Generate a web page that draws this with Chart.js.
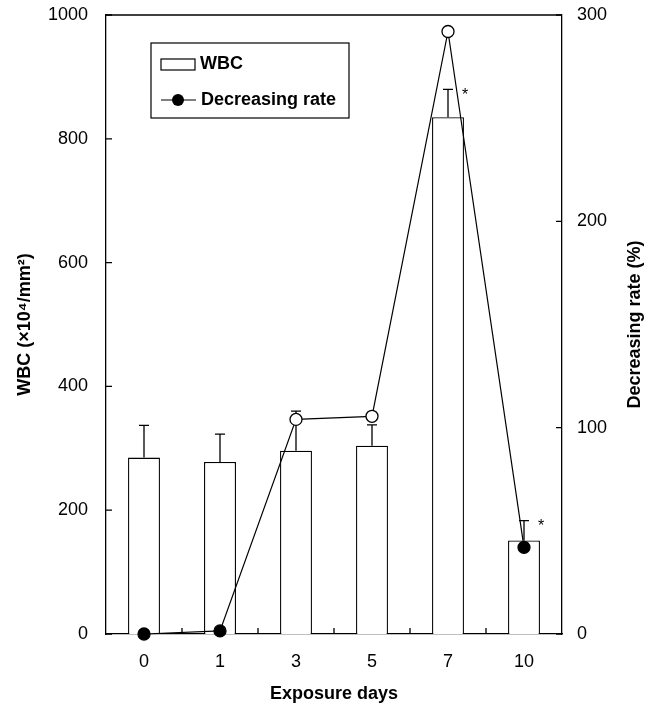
<!DOCTYPE html>
<html>
<head>
<meta charset="utf-8">
<script src="https://cdn.jsdelivr.net/npm/chart.js@4.4.0/dist/chart.umd.min.js"></script>
<style>
  body { margin: 0; background: #fff; }
</style>
</head>
<body>
<canvas id="chart" width="653" height="707"></canvas>
<script>
const days = ['0', '1', '3', '5', '7', '10'];
const wbc = [285, 278, 296, 304, 835, 151];
const wbcSd = [52, 45, 64, 34, 45, 32];
const rate = [0, 1.5, 104, 105.5, 292, 42];
const rateOpen = [false, false, true, true, true, false];
const signif = ['', '', '', '', '*', '*'];
const wbcTicks = [0, 200, 400, 600, 800, 1000];
const rateTicks = [0, 100, 200, 300];

Chart.defaults.font.family = "'Liberation Sans', Arial, sans-serif";
Chart.defaults.font.size = 18;
Chart.defaults.color = '#000';

const boldFont = "bold 18px 'Liberation Sans', Arial, sans-serif";

// frame, inward ticks, error bars, legend, right title
const extras = {
  id: 'extras',
  beforeDatasetsDraw(chart) {
    const { ctx, chartArea: a, scales } = chart;
    ctx.save();
    ctx.strokeStyle = '#000';
    ctx.lineWidth = 1.3;
    // top border
    ctx.beginPath();
    ctx.moveTo(a.left, a.top);
    ctx.lineTo(a.right, a.top);
    ctx.stroke();
    // inward ticks
    ctx.beginPath();
    scales.y.ticks.forEach(t => {
      const y = scales.y.getPixelForValue(t.value);
      ctx.moveTo(a.left, y);
      ctx.lineTo(a.left + 6, y);
    });
    scales.y1.ticks.forEach(t => {
      const y = scales.y1.getPixelForValue(t.value);
      ctx.moveTo(a.right, y);
      ctx.lineTo(a.right - 6, y);
    });
    const step = (a.right - a.left) / days.length;
    for (let i = 1; i < days.length; i++) {
      const x = a.left + step * i;
      ctx.moveTo(x, a.bottom);
      ctx.lineTo(x, a.bottom - 6);
    }
    ctx.stroke();
    ctx.restore();
  },
  afterDatasetDraw(chart, args) {
    if (args.index !== 0) return;
    const { ctx, scales } = chart;
    ctx.save();
    ctx.strokeStyle = '#000';
    ctx.lineWidth = 1.3;
    ctx.font = "16px 'Liberation Sans', Arial, sans-serif";
    ctx.fillStyle = '#000';
    wbc.forEach((v, i) => {
      const x = scales.x.getPixelForValue(i);
      const y0 = scales.y.getPixelForValue(v);
      const y1 = scales.y.getPixelForValue(v + wbcSd[i]);
      ctx.beginPath();
      ctx.moveTo(x, y0);
      ctx.lineTo(x, y1);
      ctx.moveTo(x - 5, y1);
      ctx.lineTo(x + 5, y1);
      ctx.stroke();
      if (signif[i]) {
        ctx.textAlign = 'left';
        ctx.textBaseline = 'top';
        ctx.fillText(signif[i], x + 14, y1 - 2);
      }
    });
    ctx.restore();
  },
  afterDraw(chart) {
    const { ctx, chartArea: a } = chart;
    ctx.save();
    ctx.strokeStyle = '#000';
    ctx.fillStyle = '#000';
    ctx.lineWidth = 1.2;
    // legend box
    const lx = a.left + 45, ly = a.top + 28;
    ctx.fillStyle = '#fff';
    ctx.fillRect(lx, ly, 198, 75);
    ctx.strokeRect(lx, ly, 198, 75);
    ctx.strokeRect(lx + 10, ly + 16, 34, 11);
    ctx.beginPath();
    ctx.moveTo(lx + 10, ly + 57);
    ctx.lineTo(lx + 45, ly + 57);
    ctx.stroke();
    ctx.fillStyle = '#000';
    ctx.beginPath();
    ctx.arc(lx + 27, ly + 57, 6, 0, Math.PI * 2);
    ctx.fill();
    ctx.font = boldFont;
    ctx.textAlign = 'left';
    ctx.textBaseline = 'middle';
    ctx.fillText(chart.data.datasets[0].label, lx + 49, ly + 21);
    ctx.fillText(chart.data.datasets[1].label, lx + 50, ly + 57);
    // right axis title, reading upward
    ctx.translate(635, (a.top + a.bottom) / 2);
    ctx.rotate(-Math.PI / 2);
    ctx.textAlign = 'center';
    ctx.fillText('Decreasing rate (%)', 0, 0);
    ctx.restore();
  }
};

function fitY(width) {
  return s => {
    s.width = width;
    s.paddingTop = 0;
    s.paddingBottom = 0;
  };
}

new Chart(document.getElementById('chart'), {
  data: {
    labels: days,
    datasets: [
      {
        type: 'bar',
        label: 'WBC',
        data: wbc,
        yAxisID: 'y',
        backgroundColor: '#fff',
        borderColor: '#000',
        borderWidth: 1.3,
        barPercentage: 0.42,
        categoryPercentage: 1,
        order: 1,
      },
      {
        type: 'line',
        label: 'Decreasing rate',
        data: rate,
        yAxisID: 'y1',
        borderColor: '#000',
        borderWidth: 1.2,
        pointRadius: 6,
        pointBorderWidth: 1.3,
        pointBorderColor: '#000',
        pointBackgroundColor: rateOpen.map(o => (o ? '#fff' : '#000')),
        tension: 0,
        clip: false,
        order: 0,
      },
    ],
  },
  options: {
    responsive: false,
    animation: false,
    layout: { padding: { top: 15, right: 0, bottom: 0, left: 0 } },
    plugins: {
      legend: { display: false },
      tooltip: { enabled: false },
    },
    scales: {
      x: {
        grid: { display: false, drawTicks: false },
        border: { color: '#000', width: 1.3 },
        ticks: { padding: 17 },
        title: { display: true, text: 'Exposure days', font: { weight: 'bold', size: 18 }, padding: { top: 0, bottom: 2 } },
        afterFit(s) { s.height = 73; s.paddingLeft = 0; s.paddingRight = 0; },
      },
      y: {
        position: 'left',
        min: 0,
        max: 1000,
        grid: { display: false, drawTicks: false },
        border: { color: '#000', width: 1.3 },
        ticks: { padding: 18, callback: v => String(v) },
        afterBuildTicks(s) { s.ticks = wbcTicks.map(v => ({ value: v })); },
        title: { display: true, text: 'WBC (×10⁴/mm²)', font: { weight: 'bold', size: 18 }, padding: { top: 14, bottom: 0 } },
        afterFit: fitY(106),
      },
      y1: {
        position: 'right',
        min: 0,
        max: 300,
        grid: { display: false, drawTicks: false },
        border: { color: '#000', width: 1.3 },
        ticks: { padding: 15, callback: v => String(v) },
        afterBuildTicks(s) { s.ticks = rateTicks.map(v => ({ value: v })); },
        afterFit: fitY(91),
      },
    },
  },
  plugins: [extras],
});
</script>
</body>
</html>
